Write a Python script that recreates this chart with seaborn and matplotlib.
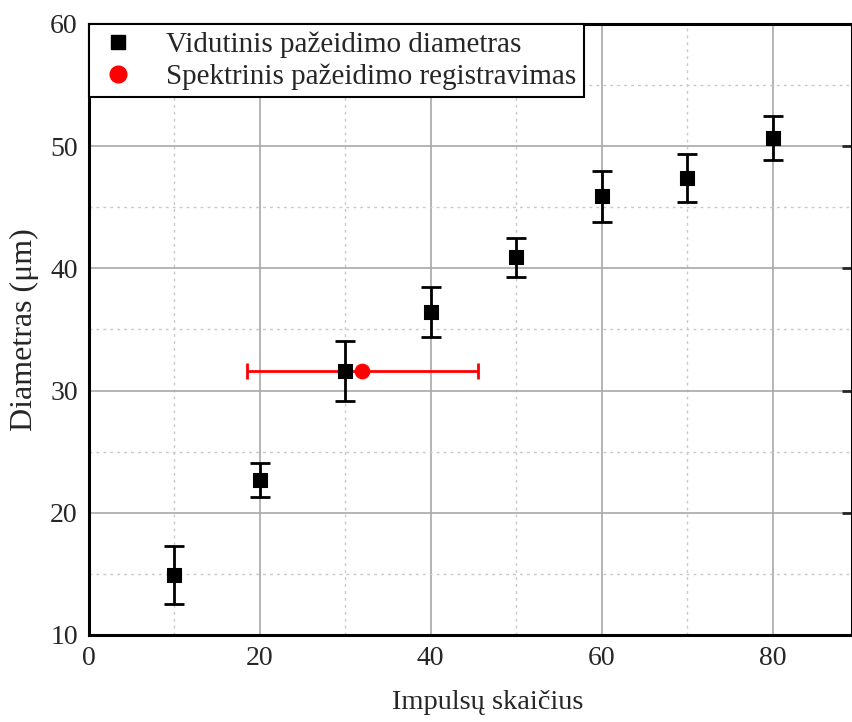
import matplotlib
matplotlib.use("Agg")
import matplotlib.pyplot as plt
import seaborn as sns
import pandas as pd
from matplotlib.ticker import MultipleLocator
from matplotlib.lines import Line2D

impulses = [10, 20, 30, 40, 50, 60, 70, 80]
diameter = [14.9, 22.7, 31.6, 36.4, 40.9, 45.9, 47.4, 50.7]
diameter_err = [2.4, 1.4, 2.45, 2.05, 1.6, 2.1, 1.95, 1.8]

spec_x = [32.0]
spec_y = [31.6]
spec_xerr = [13.5]

labels = ["Vidutinis pažeidimo diametras", "Spektrinis pažeidimo registravimas"]

sns.set_style("white")
plt.rcParams["font.family"] = ["Liberation Serif", "DejaVu Serif"]

fig = plt.figure(figsize=(8.53, 7.22), dpi=100)
ax = fig.add_axes([0.1043, 0.1205, 0.8945, 0.8463])

df = pd.DataFrame({"x": impulses, "y": diameter, "err": diameter_err})
ds = pd.DataFrame({"x": spec_x, "y": spec_y, "xerr": spec_xerr})

ax.errorbar(df["x"], df["y"], yerr=df["err"], fmt="none", ecolor="black",
            elinewidth=2, capsize=7, capthick=2, zorder=3)
ax.errorbar(ds["x"], ds["y"], xerr=ds["xerr"], fmt="none", ecolor="red",
            elinewidth=2, capsize=6, capthick=2, zorder=3)
sns.scatterplot(data=df, x="x", y="y", marker="s", s=95, color="black",
                edgecolor="black", ax=ax, zorder=4, legend=False)
sns.scatterplot(data=ds, x="x", y="y", marker="o", s=110, color="red",
                edgecolor="red", ax=ax, zorder=5, legend=False)

ax.set_xlim(0, 89.3)
ax.set_ylim(10, 60)
ax.xaxis.set_major_locator(MultipleLocator(20))
ax.xaxis.set_minor_locator(MultipleLocator(10))
ax.yaxis.set_major_locator(MultipleLocator(10))
ax.yaxis.set_minor_locator(MultipleLocator(5))
ax.grid(True, which="major", color="#a8a8a8", linewidth=1.2, linestyle="-")
ax.grid(True, which="minor", color="#c8c8c8", linewidth=1.0, linestyle=(0, (2, 3)))
ax.set_axisbelow(True)

ax.tick_params(axis="both", which="major", direction="in", length=7, width=2,
               labelsize=20, top=False, right=True, pad=8)
ax.tick_params(axis="both", which="minor", direction="in", length=4, width=1.5,
               top=False, right=False)
for sp in ax.spines.values():
    sp.set_linewidth(2.2)
    sp.set_color("black")

ax.set_xlabel("Impulsų skaičius", fontsize=20.5)
ax.xaxis.set_label_coords(0.522, -0.09)
ax.set_ylabel("Diametras (μm)", fontsize=23, labelpad=8)

handles = [
    Line2D([], [], marker="s", color="black", linestyle="none", markersize=10),
    Line2D([], [], marker="o", color="red", linestyle="none", markersize=12),
]
leg = ax.legend(handles, labels, loc="upper left", fontsize=21, frameon=True,
                fancybox=False, edgecolor="black", framealpha=1,
                borderaxespad=0.0, handletextpad=0.9, borderpad=0.25,
                labelspacing=0.2, handlelength=1.5)
leg.get_frame().set_linewidth(1.5)

fig.savefig("out.png", dpi=100)
